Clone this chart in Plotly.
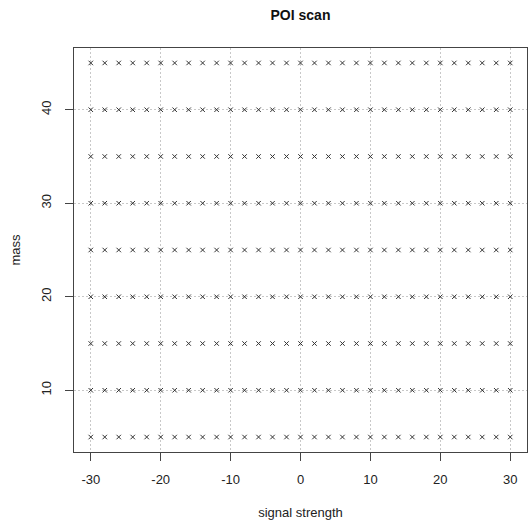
import plotly.graph_objects as go

# Scan grid: signal strength values and mass points
signal_strength = [-30, -28, -26, -24, -22, -20, -18, -16, -14, -12, -10, -8, -6, -4, -2, 0,
                   2, 4, 6, 8, 10, 12, 14, 16, 18, 20, 22, 24, 26, 28, 30]
mass = [5, 10, 15, 20, 25, 30, 35, 40, 45]

x_ticks = [-30, -20, -10, 0, 10, 20, 30]
x_tick_labels = ["-30", "-20", "-10", "0", "10", "20", "30"]
y_ticks = [10, 20, 30, 40]
y_tick_labels = ["10", "20", "30", "40"]

xs = [s for m in mass for s in signal_strength]
ys = [m for m in mass for s in signal_strength]

font = "Liberation Sans, Arial, sans-serif"

fig = go.Figure(
    go.Scatter(
        x=xs, y=ys, mode="markers",
        marker=dict(symbol="x-thin", size=4.5, color="#333",
                    line=dict(width=1, color="#333")),
        hoverinfo="x+y",
    )
)

axis_common = dict(
    showline=True, linecolor="#444", linewidth=1, mirror=True,
    ticks="outside", ticklen=8, tickcolor="#444", tickwidth=1,
    showgrid=True, gridcolor="#c8c8c8", griddash="2px,2px", gridwidth=1,
    zeroline=False,
    tickfont=dict(family=font, size=13, color="#222"),
)

fig.update_layout(
    width=529, height=521,
    margin=dict(l=74, r=2, t=48, b=69),
    paper_bgcolor="white", plot_bgcolor="white",
    showlegend=False,
    title=dict(text="<b>POI scan</b>", x=(74 + 527) / 2 / 529, xanchor="center",
               y=1 - 15 / 521, yanchor="middle",
               font=dict(family=font, size=14, color="#111")),
    xaxis=dict(axis_common, range=[-32.4, 32.4], tickvals=x_ticks,
               ticktext=x_tick_labels, ticklabelstandoff=7,
               title=dict(text="signal strength", standoff=22,
                          font=dict(family=font, size=13, color="#222"))),
    yaxis=dict(axis_common, range=[3.4, 46.6], tickvals=y_ticks,
               ticktext=y_tick_labels, tickangle=-90, ticklabelstandoff=9,
               title=dict(text="mass", standoff=15,
                          font=dict(family=font, size=13, color="#222"))),
)

fig.write_html("out.html")
